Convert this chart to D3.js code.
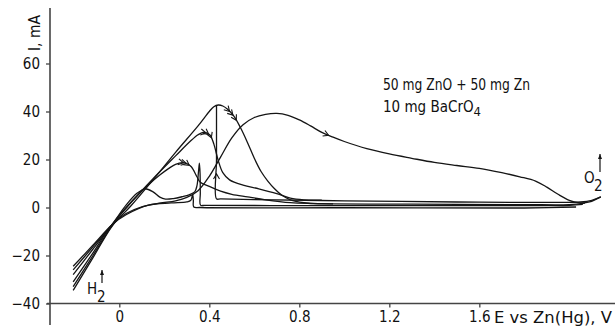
<!DOCTYPE html>
<html><head><meta charset="utf-8">
<script src="https://cdn.jsdelivr.net/npm/d3@7"></script>
<style>
html,body{margin:0;padding:0;background:#fff;}
svg{display:block;}
text{font-family:"DejaVu Sans Condensed","DejaVu Sans",Arial,sans-serif;font-stretch:condensed;fill:#111;}
</style></head><body>
<svg id="c" width="615" height="330"></svg>
<script>
// ---- data (E in V vs Zn(Hg), I in mA) ----
const xTickValues = [0, 0.4, 0.8, 1.2, 1.6];
const xTickLabels = ["0", "0.4", "0.8", "1.2", "1.6"];
const yTickValues = [-40, -20, 0, 20, 40, 60];
const xLabel = "E vs Zn(Hg), V";
const yLabel = "I, mA";
const noteLine1 = "50 mg ZnO + 50 mg Zn";
const noteLine2 = "10 mg BaCrO";
const noteSub2 = "4";

// sweep to 2.15 V (broad peak)
const sweepA = [[-0.205,-31],[-0.1175,-19],[-0.03,-7],[0.03,-2.5],[0.1,0.3],[0.18,1.8],[0.25,2.8],[0.3,4.2],[0.35,7],[0.4,13],[0.45,21],[0.5,29],[0.55,34.5],[0.6,37.5],[0.65,38.8],[0.7,39.2],[0.75,38.4],[0.8,36.5],[0.85,34],[0.9,31.3],[0.95,29.3],[1.0,27.5],[1.1,24.5],[1.2,22.3],[1.3,20.5],[1.4,18.8],[1.5,17.5],[1.6,16.3],[1.7,14.5],[1.78,12.8],[1.85,11],[1.9,8.5],[1.95,5.5],[2.0,3],[2.04,2],[2.09,2.3],[2.14,4.4]];
// return of the long sweep, ending with the vertical jump
const returnA = [[2.14,4.4],[2.1,3],[2.05,2.3],[1.9,2.1],[1.5,2.3],[1.0,2.8],[0.6,3.3],[0.45,3.6],[0.432,3.6],[0.432,20],[0.432,42.3]];
// sweep with 42 mA peak
const sweep4 = [[-0.205,-34.5],[-0.1175,-21],[-0.03,-7.5],[0.05,0.5],[0.15,11.5],[0.25,23],[0.35,34],[0.4,40],[0.42,42],[0.44,42.7],[0.46,42.3],[0.48,41],[0.51,38],[0.54,33],[0.57,27],[0.6,20.5],[0.63,15],[0.66,11],[0.69,7.8],[0.72,5.3],[0.76,3.2],[0.82,2],[0.9,1.6],[1.3,1.4],[1.8,1.2],[2.0,1.2],[2.07,1.8]];
// sweep with 31 mA peak
const sweep3 = [[-0.205,-33],[-0.1175,-20.1],[-0.03,-7.2],[0.05,1.8],[0.15,12],[0.25,21.5],[0.32,28],[0.35,30.3],[0.372,31.3],[0.39,31],[0.405,30],[0.42,26.5],[0.44,19.5],[0.46,14.5],[0.49,11.5],[0.55,9.3],[0.62,7.8],[0.7,5.8],[0.76,3.9],[0.82,3.2],[0.9,3.1]];
// sweep with 19 mA peak
const sweep2 = [[-0.205,-28],[-0.1175,-17.4],[-0.03,-6.8],[0.03,0],[0.08,5],[0.13,9.5],[0.18,13.5],[0.22,16.3],[0.25,18],[0.28,18.7],[0.3,18.3],[0.32,17],[0.345,12.8],[0.36,10.5],[0.4,8.8],[0.45,6.8],[0.5,5.5],[0.57,4.4],[0.65,3.2],[0.76,2],[0.85,1.65],[0.95,1.55]];
// sweep with small hump and sharp passivation spike
const sweep1 = [[-0.205,-26],[-0.1175,-16.4],[-0.03,-6.8],[0.03,1],[0.08,6],[0.115,7.8],[0.15,6.5],[0.18,4.3],[0.205,3.5],[0.24,3.7],[0.28,4.5],[0.31,5.3],[0.335,6.5],[0.345,9],[0.352,15],[0.356,18.5],[0.359,14],[0.36,6],[0.361,1],[0.38,0.9],[0.8,0.8],[1.5,0.8],[2.0,0.9],[2.06,1.3]];
// lowest sweep with small spike
const sweep0 = [[-0.205,-24.5],[-0.1175,-15.75],[-0.03,-7],[0.03,-3],[0.13,1],[0.23,1.9],[0.3,2.3],[0.318,3],[0.326,5.5],[0.329,3],[0.331,0.2],[0.36,0],[1.0,-0.1],[1.8,-0.2],[2.03,0.2]];

const curves = [sweepA, returnA, sweep4, sweep3, sweep2, sweep1, sweep0];
// arrow markers: [curve, E values along curve]
const arrowMarks = [[sweep4,[0.49,0.505,0.52]],[sweep3,[0.385,0.397,0.409]],[sweep2,[0.285,0.298,0.311]],[sweepA,[0.93]]];

// ---- chart ----
const svg = d3.select("#c");
const x = d3.scaleLinear().domain([-0.308, 2.203]).range([50, 615]);
const y = d3.scaleLinear().domain([-49, 83]).range([325.1, 8.3]);
const ink = "#151515";
const FONT = '"DejaVu Sans Condensed","DejaVu Sans",Arial,sans-serif';

// axes
const xAxis = svg.append("g").attr("transform", `translate(0,${y(-40)})`)
  .call(d3.axisBottom(x).tickValues(xTickValues).tickFormat((d,i)=>xTickLabels[i]).tickSize(4).tickPadding(4).tickSizeOuter(0));
xAxis.select(".domain").remove();
xAxis.selectAll(".tick line").attr("stroke","#444").attr("stroke-width",1.3);
xAxis.selectAll(".tick text").attr("font-size",15).attr("fill",ink).style("font-family",FONT).style("font-stretch","condensed");
svg.append("line").attr("x1",47).attr("x2",615).attr("y1",y(-40)).attr("y2",y(-40)).attr("stroke","#444").attr("stroke-width",1.6);

const yAxis = svg.append("g").attr("transform", `translate(${x(-0.308)},0)`)
  .call(d3.axisLeft(y).tickValues(yTickValues).tickSize(4).tickPadding(6).tickSizeOuter(0));
yAxis.select(".domain").remove();
yAxis.selectAll(".tick line").attr("stroke","#444").attr("stroke-width",1.3);
yAxis.selectAll(".tick text").attr("font-size",15).attr("fill",ink).style("font-family",FONT).style("font-stretch","condensed");
svg.append("line").attr("x1",x(-0.308)).attr("x2",x(-0.308)).attr("y1",8).attr("y2",325).attr("stroke","#444").attr("stroke-width",1.6);

svg.append("text").attr("x",494).attr("y",323).attr("font-size",15)
  .attr("textLength",118).attr("lengthAdjust","spacingAndGlyphs").text(xLabel);
svg.append("text").attr("transform","translate(40,33) rotate(-90)").attr("text-anchor","middle").attr("font-size",15)
  .attr("textLength",36).attr("lengthAdjust","spacingAndGlyphs").text(yLabel);

// curves
const line = d3.line().x(d=>x(d[0])).y(d=>y(d[1])).curve(d3.curveCatmullRom.alpha(0.5));
svg.append("g").selectAll("path").data(curves).join("path")
  .attr("d", line).attr("fill","none").attr("stroke",ink).attr("stroke-width",1.3).attr("stroke-linejoin","round");

// arrows
function pointAt(c, v){
  for(let i=0;i<c.length-1;i++){
    const a=c[i], b=c[i+1];
    if((a[0]-v)*(b[0]-v)<=0 && a[0]!==b[0]){
      const t=(v-a[0])/(b[0]-a[0]);
      const px=x(a[0])+t*(x(b[0])-x(a[0])), py=y(a[1])+t*(y(b[1])-y(a[1]));
      const ang=Math.atan2(y(b[1])-y(a[1]), x(b[0])-x(a[0]));
      return [px,py,ang];
    }
  }
  return null;
}
function chevron(px,py,ang){
  const L=6, h=Math.PI/6;
  const p1=[px-L*Math.cos(ang-h), py-L*Math.sin(ang-h)];
  const p2=[px-L*Math.cos(ang+h), py-L*Math.sin(ang+h)];
  svg.append("path").attr("d",`M${p1}L${px},${py}L${p2}`).attr("fill","none").attr("stroke",ink).attr("stroke-width",1.1);
}
arrowMarks.forEach(([c,vs])=>vs.forEach(v=>{const p=pointAt(c,v); if(p) chevron(p[0],p[1],p[2]);}));
chevron(x(0.432), y(14), -Math.PI/2);

// annotations
svg.append("text").attr("x",383).attr("y",90).attr("font-size",15)
  .attr("textLength",147).attr("lengthAdjust","spacingAndGlyphs").text(noteLine1);
const t2 = svg.append("text").attr("x",383).attr("y",112).attr("font-size",15).text(noteLine2);
t2.append("tspan").attr("dy",4).attr("font-size",13).text(noteSub2);

function gasLabel(sym, tx, ty, ax, ay1, ay2){
  svg.append("text").attr("x",tx).attr("y",ty).attr("font-size",15).attr("fill",ink).text(sym);
  svg.append("text").attr("x",tx+10).attr("y",ty+8).attr("font-size",15).attr("fill",ink).text("2");
  svg.append("line").attr("x1",ax).attr("x2",ax).attr("y1",ay1).attr("y2",ay2).attr("stroke",ink).attr("stroke-width",1.2);
  svg.append("path").attr("d",`M${ax-2},${ay2+5}L${ax},${ay2}L${ax+2},${ay2+5}Z`).attr("fill",ink);
}
gasLabel("H", 87, 294, 102, 283, 270);
gasLabel("O", 584, 183, 600, 172, 154);
</script>
</body></html>
